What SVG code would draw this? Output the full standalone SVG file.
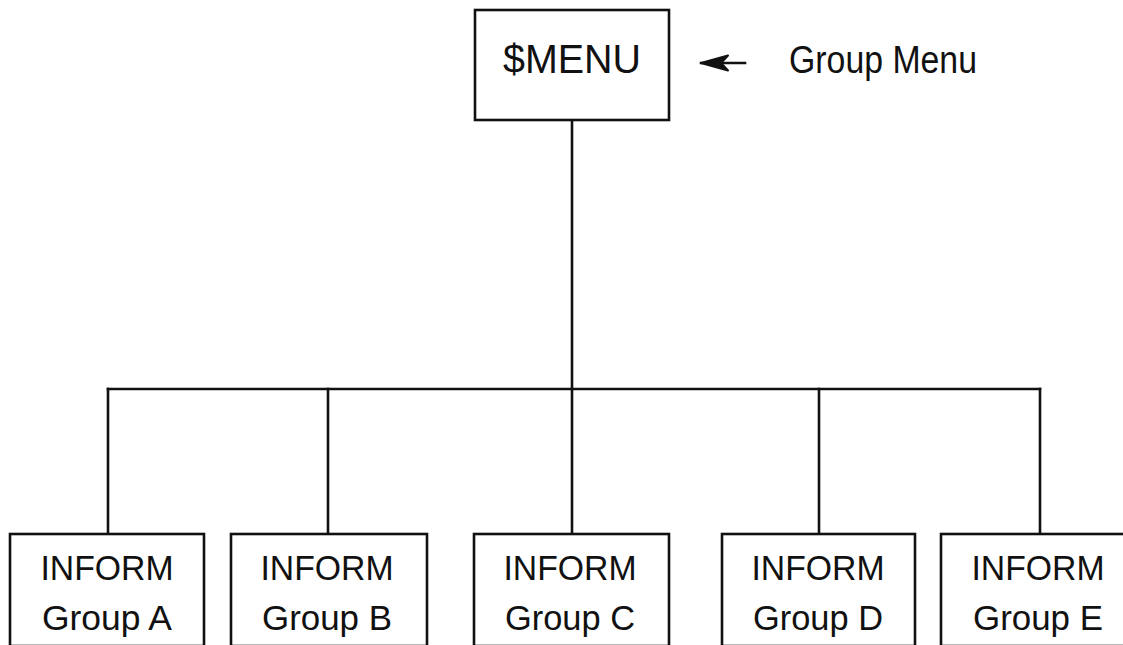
<svg xmlns="http://www.w3.org/2000/svg" width="1123" height="645" viewBox="0 0 1123 645">
  <style>
    .box { fill: #ffffff; stroke: #111111; stroke-width: 2.6; }
    .wire { fill: none; stroke: #111111; stroke-width: 2.6; stroke-linecap: square; }
    .lbl { font-family: "Liberation Sans", Arial, sans-serif; fill: #111111; text-anchor: middle; }
    .big { font-size: 40px; }
    .small { font-size: 35px; }
  </style>
  <defs>
    <marker id="barb" viewBox="0 0 30 18" refX="28" refY="9" markerWidth="30" markerHeight="18" markerUnits="userSpaceOnUse" orient="auto">
      <path d="M28,9 L1,1.5 L8,9 L1,16.5 Z" fill="#111111" stroke="#111111" stroke-width="2" stroke-linejoin="round"/>
    </marker>
  </defs>
  <rect width="1123" height="645" fill="#ffffff"/>

  <g id="connectors">
    <path class="wire" d="M572,120 V389"/>
    <path class="wire" d="M108,389 H1040"/>
    <path class="wire" d="M108,389 V534"/>
    <path class="wire" d="M328,389 V534"/>
    <path class="wire" d="M572,389 V534"/>
    <path class="wire" d="M819,389 V534"/>
    <path class="wire" d="M1040,389 V534"/>
    <line class="wire" x1="745" y1="63" x2="701" y2="63" marker-end="url(#barb)"/>
  </g>

  <g id="menu">
    <rect class="box" x="475" y="10" width="194" height="110"/>
    <text class="lbl big" x="572" y="73" textLength="138" lengthAdjust="spacingAndGlyphs">$MENU</text>
  </g>

  <g id="menu-label">
    <text class="lbl" x="789" y="73" style="text-anchor:start;font-size:38px" textLength="188" lengthAdjust="spacingAndGlyphs">Group Menu</text>
  </g>

  <g id="group-a">
    <rect class="box" x="10" y="534" width="194" height="112"/>
    <text class="lbl small" x="107" y="580" textLength="133" lengthAdjust="spacingAndGlyphs">INFORM</text>
    <text class="lbl small" x="107" y="630" textLength="130" lengthAdjust="spacingAndGlyphs">Group A</text>
  </g>

  <g id="group-b">
    <rect class="box" x="231" y="534" width="196" height="112"/>
    <text class="lbl small" x="327" y="580" textLength="133" lengthAdjust="spacingAndGlyphs">INFORM</text>
    <text class="lbl small" x="327" y="630" textLength="130" lengthAdjust="spacingAndGlyphs">Group B</text>
  </g>

  <g id="group-c">
    <rect class="box" x="474" y="534" width="195" height="112"/>
    <text class="lbl small" x="570" y="580" textLength="133" lengthAdjust="spacingAndGlyphs">INFORM</text>
    <text class="lbl small" x="570" y="630" textLength="130" lengthAdjust="spacingAndGlyphs">Group C</text>
  </g>

  <g id="group-d">
    <rect class="box" x="722" y="534" width="193" height="112"/>
    <text class="lbl small" x="818" y="580" textLength="133" lengthAdjust="spacingAndGlyphs">INFORM</text>
    <text class="lbl small" x="818" y="630" textLength="130" lengthAdjust="spacingAndGlyphs">Group D</text>
  </g>

  <g id="group-e">
    <rect class="box" x="941" y="534" width="194" height="112"/>
    <text class="lbl small" x="1038" y="580" textLength="133" lengthAdjust="spacingAndGlyphs">INFORM</text>
    <text class="lbl small" x="1038" y="630" textLength="130" lengthAdjust="spacingAndGlyphs">Group E</text>
  </g>
</svg>
